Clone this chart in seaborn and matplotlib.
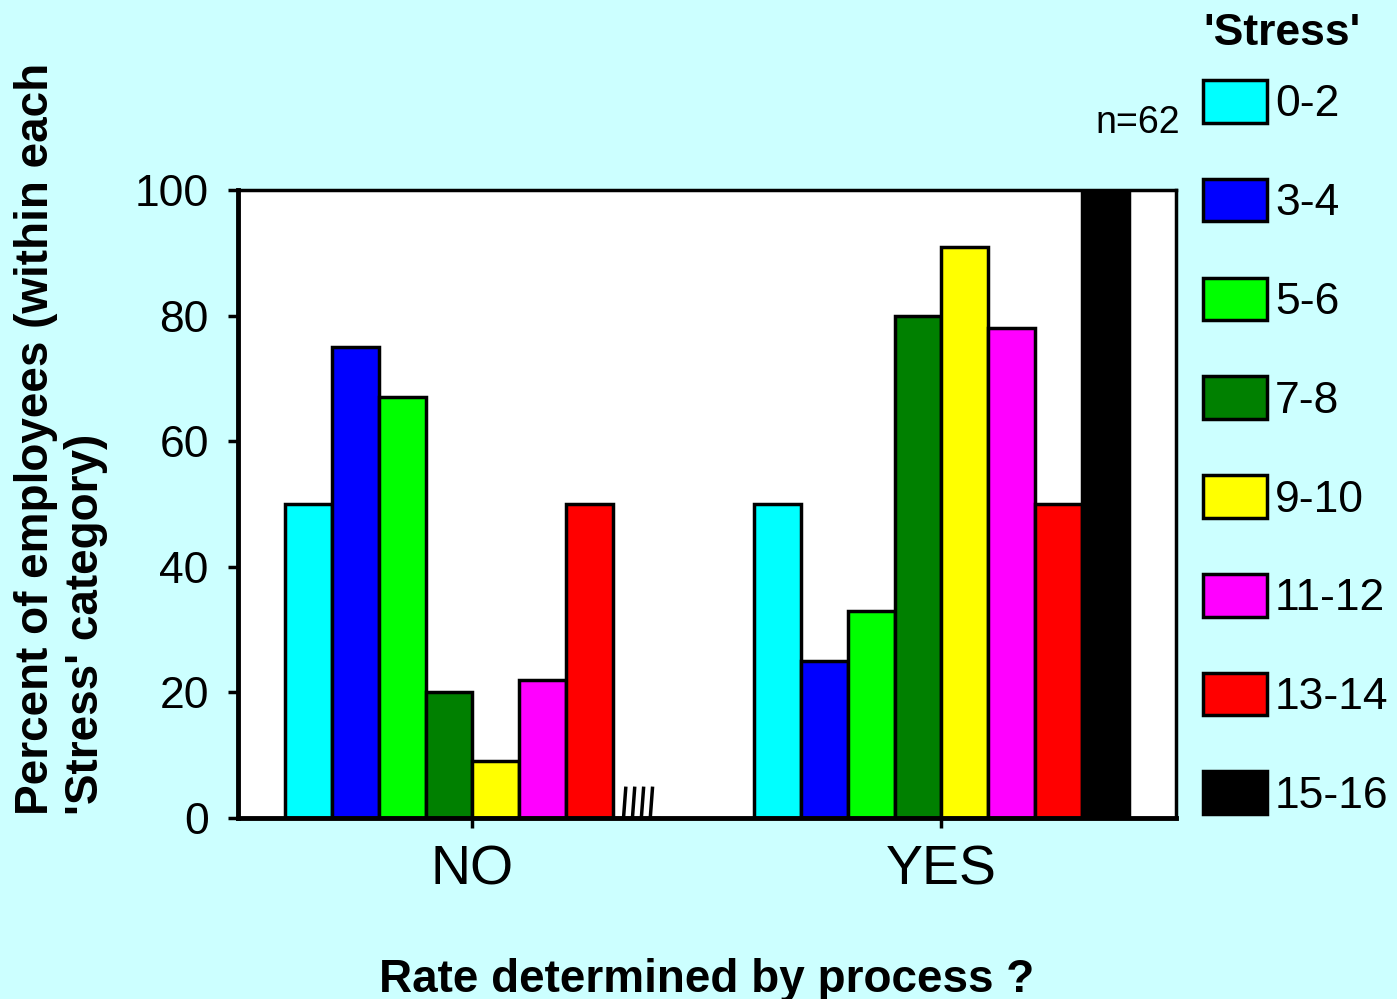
import matplotlib
matplotlib.use("Agg")
import matplotlib.pyplot as plt
from matplotlib.patches import Patch
import seaborn as sns
import pandas as pd

# Share of employees answering NO / YES within each stress-score band
stress_bands = ["0-2", "3-4", "5-6", "7-8", "9-10", "11-12", "13-14", "15-16"]
answers = ["NO", "YES"]
pct_no = [50, 75, 67, 20, 9, 22, 50, 0]
pct_yes = [50, 25, 33, 80, 91, 78, 50, 100]
band_colors = ["#00FFFF", "#0000FF", "#00FF00", "#008000",
               "#FFFF00", "#FF00FF", "#FF0000", "#000000"]
sample_note = "n=62"

df = pd.DataFrame({
    "answer": ["NO"] * len(stress_bands) + ["YES"] * len(stress_bands),
    "stress": stress_bands * 2,
    "pct": pct_no + pct_yes,
})

sns.set_theme(style="white")
plt.rcParams["font.family"] = ["Liberation Sans", "DejaVu Sans"]
plt.rcParams.update({"text.color": "black", "axes.labelcolor": "black",
                     "xtick.color": "black", "ytick.color": "black"})

bg = "#CCFFFF"
fig = plt.figure(figsize=(13.97, 9.99), dpi=100, facecolor=bg)
ax = fig.add_axes([238 / 1397, 1 - 818 / 999, (1176 - 238) / 1397, (818 - 190) / 999])
ax.set_facecolor("white")

sns.barplot(data=df, x="answer", y="pct", hue="stress", order=answers,
            hue_order=stress_bands, palette=band_colors, width=0.8,
            edgecolor="black", linewidth=2.5, saturation=1, ax=ax, legend=False)

# Mark the empty NO / 15-16 bar with short slanted strokes at the baseline
no_idx = stress_bands.index("15-16")
zero_patch = ax.patches[no_idx * len(answers)]
x0, w = zero_patch.get_x(), zero_patch.get_width()
for k in range(4):
    xs = x0 + w * (0.22 + 0.19 * k)
    ax.plot([xs, xs + w * 0.05], [0, 5], color="black", lw=2.5,
            solid_capstyle="butt", zorder=5)

ax.set_xlim(-0.5, 1.5)
ax.set_ylim(0, 100)
ax.set_yticks([0, 20, 40, 60, 80, 100])
ax.tick_params(axis="y", which="major", direction="out", length=7, width=2.5,
               labelsize=32, pad=14, left=True)
ax.tick_params(axis="x", which="major", direction="out", length=7, width=2.5,
               labelsize=40, pad=12, bottom=True)

for side in ["left", "bottom"]:
    ax.spines[side].set_linewidth(3.5)
for side in ["top", "right"]:
    ax.spines[side].set_linewidth(2.5)
for sp in ax.spines.values():
    sp.set_color("black")
    sp.set_visible(True)

ax.set_xlabel("Rate determined by process ?", fontsize=33, fontweight="bold",
              labelpad=44)
ax.set_ylabel("")
fig.text(61 / 1397, 1 - 815 / 999, "Percent of employees (within each\n'Stress' category)",
         rotation=90, fontsize=33, fontweight="bold", ha="center", va="bottom",
         multialignment="left", linespacing=1.15)

fig.text(1095 / 1397, 1 - 133 / 999, sample_note, fontsize=27, ha="left", va="baseline")

fig.text(1203 / 1397, 1 - 45 / 999, "'Stress'", fontsize=32, fontweight="bold",
         ha="left", va="baseline")

handles = [Patch(facecolor=c, edgecolor="black", linewidth=2.5) for c in band_colors]
leg = ax.legend(handles, stress_bands, loc="upper left",
                bbox_to_anchor=(1203 / 1397, 1 - 80 / 999), bbox_transform=fig.transFigure,
                frameon=False, fontsize=32,
                borderpad=0, borderaxespad=0,
                handlelength=1.44, handleheight=1.1, handletextpad=0.18,
                labelspacing=1.2)

fig.savefig("out.png", dpi=100, facecolor=bg)
